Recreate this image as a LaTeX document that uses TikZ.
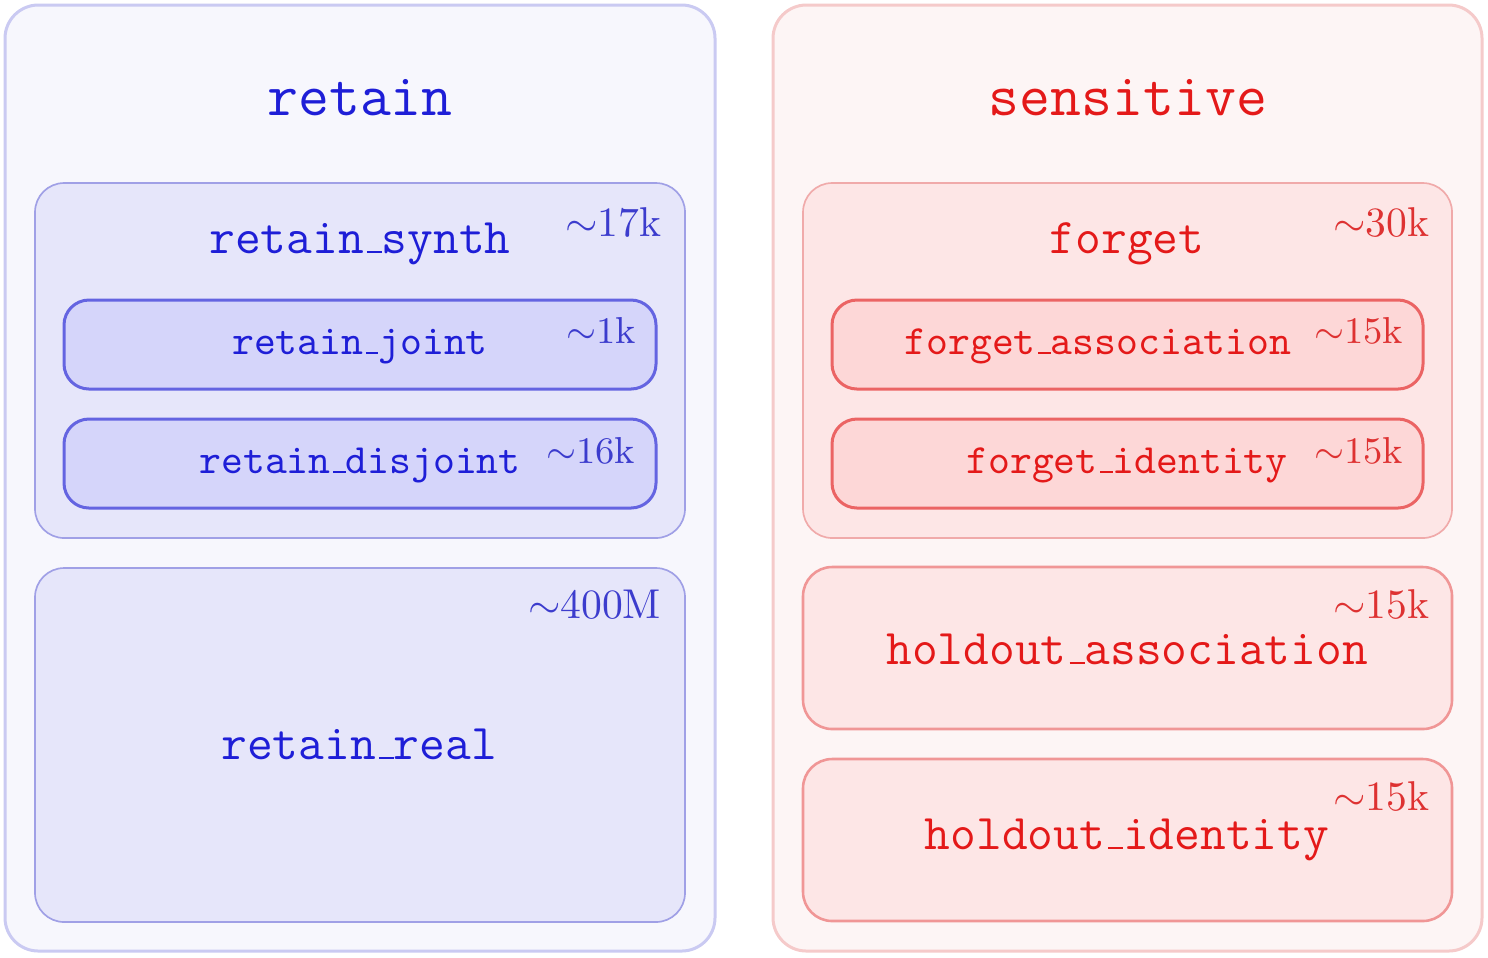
\documentclass[tikz,border=0pt]{standalone}
\usetikzlibrary{fit}
\newcommand{\usc}{\leavevmode\kern.06em\vbox{\hrule width.3em}}
\definecolor{btext}{RGB}{30,30,215}
\definecolor{btag}{RGB}{60,60,205}
\definecolor{rtext}{RGB}{228,25,25}
\definecolor{rtag}{RGB}{222,50,50}
\definecolor{bofill}{RGB}{247,247,253}
\definecolor{bodraw}{RGB}{202,202,242}
\definecolor{bmfill}{RGB}{230,230,250}
\definecolor{bmdraw}{RGB}{160,160,230}
\definecolor{bifill}{RGB}{213,213,250}
\definecolor{bidraw}{RGB}{100,100,225}
\definecolor{rofill}{RGB}{253,245,245}
\definecolor{rodraw}{RGB}{245,202,202}
\definecolor{rmfill}{RGB}{253,230,230}
\definecolor{rmdraw}{RGB}{240,170,170}
\definecolor{rifill}{RGB}{253,215,215}
\definecolor{ridraw}{RGB}{235,100,100}
\definecolor{rhdraw}{RGB}{240,150,150}
\tikzset{
  box/.style={inner sep=0pt, rounded corners=#1},
  outerb/.style={box=8pt, fill=bofill, draw=bodraw, line width=0.72pt},
  midb/.style={box=7pt, fill=bmfill, draw=bmdraw, line width=0.4pt},
  innb/.style={box=6pt, fill=bifill, draw=bidraw, line width=0.72pt},
  outerr/.style={box=8pt, fill=rofill, draw=rodraw, line width=0.72pt},
  midr/.style={box=7pt, fill=rmfill, draw=rmdraw, line width=0.4pt},
  innr/.style={box=6pt, fill=rifill, draw=ridraw, line width=0.72pt},
  holdr/.style={box=7pt, fill=rmfill, draw=rhdraw, line width=0.62pt},
  lbl/.style={anchor=base, inner sep=0pt, font=\ttfamily#1},
  tag/.style={anchor=base east, inner sep=0pt, font=\rmfamily#1},
}
\begin{document}
\begin{tikzpicture}[x=0.24pt,y=-0.24pt]
\useasboundingbox (0,0) rectangle (1488,957);
% left
\node[outerb, fit={(5,5) (715,951)}] (retainbox) {};
\node[midb, fit={(35,183) (685,538)}] (synthbox) {};
\node[innb, fit={(64,300) (656,389)}] (jointbox) {};
\node[innb, fit={(64,419) (656,508)}] (disjbox) {};
\node[midb, fit={(35,568) (685,922)}] (realbox) {};
\node[lbl=\Large, text=btext] (retaint) at (360,115) {retain};
\node[lbl=\large, text=btext] (syntht) at (360,253) {retain\usc synth};
\node[tag=\normalsize, text=btag] (syntht2) at (662,236) {$\sim$17k};
\node[lbl=\normalsize, text=btext] (jointt) at (360,354) {retain\usc joint};
\node[tag=\small, text=btag] (jointt2) at (637,343) {$\sim$1k};
\node[lbl=\normalsize, text=btext] (disjt) at (360,473) {retain\usc disjoint};
\node[tag=\small, text=btag] (disjt2) at (636,463) {$\sim$16k};
\node[lbl=\large, text=btext] (realt) at (359,759) {retain\usc real};
\node[tag=\normalsize, text=btag] (realt2) at (662,618) {$\sim$400M};
% right
\node[outerr, fit={(773,5) (1482,951)}] (sensbox) {};
\node[midr, fit={(803,183) (1452,538)}] (forgetbox) {};
\node[innr, fit={(832,300) (1423,389)}] (fassocbox) {};
\node[innr, fit={(832,419) (1423,508)}] (fidbox) {};
\node[holdr, fit={(803,567) (1452,729)}] (hassocbox) {};
\node[holdr, fit={(803,759) (1452,921)}] (hidbox) {};
\node[lbl=\Large, text=rtext] (senst) at (1128,115) {sensitive};
\node[lbl=\large, text=rtext] (forgett) at (1127,253) {forget};
\node[tag=\normalsize, text=rtag] (forgett2) at (1430,236) {$\sim$30k};
\node[lbl=\normalsize, text=rtext] (fassoct) at (1098,354) {forget\usc association};
\node[tag=\small, text=rtag] (fassoct2) at (1404,343) {$\sim$15k};
\node[lbl=\normalsize, text=rtext] (fidt) at (1127,473) {forget\usc identity};
\node[tag=\small, text=rtag] (fidt2) at (1404,463) {$\sim$15k};
\node[lbl=\large, text=rtext] (hassoct) at (1127,664) {holdout\usc association};
\node[tag=\normalsize, text=rtag] (hassoct2) at (1430,618) {$\sim$15k};
\node[lbl=\large, text=rtext] (hidt) at (1127,849) {holdout\usc identity};
\node[tag=\normalsize, text=rtag] (hidt2) at (1430,810) {$\sim$15k};
\end{tikzpicture}
\end{document}
